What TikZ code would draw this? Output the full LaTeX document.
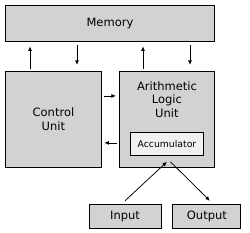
\documentclass[tikz,border=0pt]{standalone}
\usepackage{fontspec}
\setmainfont{DejaVu Sans}
\usetikzlibrary{positioning,arrows.meta}

\tikzset{
  unit/.style={rectangle,draw,line width=0.9pt,fill=gray!35,inner sep=0pt,font=\fontsize{11.5}{13.5}\selectfont,align=center},
  arr/.style={-{Latex[length=4.5pt,width=4pt]},line width=0.75pt}
}

\begin{document}
\begin{tikzpicture}
  \useasboundingbox (0,0) rectangle (250pt,-233pt);
  \node[unit,minimum width=209pt,minimum height=36pt,anchor=north west] (mem) at (5pt,-5pt) {Memory};
  \node[unit,minimum width=96pt,minimum height=96pt,below=29pt of mem.south west,anchor=north west] (cu) {Control\\Unit};
  \node[unit,minimum width=95pt,minimum height=96pt,below=29pt of mem.south east,anchor=north east,text depth=40pt] (alu) {Arithmetic\\Logic\\Unit};
  \node[unit,fill=gray!12,minimum width=73pt,minimum height=23pt,above=12pt of alu.south,anchor=south,font=\fontsize{9.3}{11}\selectfont,text depth=0pt] (acc) {Accumulator};
  \node[unit,minimum width=72pt,minimum height=24pt,below=36pt of alu.south,anchor=north east,xshift=-5.5pt] (in) {Input};
  \node[unit,minimum width=68pt,minimum height=24pt,right=11pt of in] (out) {Output};
  % memory <-> control unit
  \draw[arr] ([xshift=25pt,yshift=2pt]cu.north west) coordinate (a) -- ([yshift=-4.5pt]a |- mem.south);
  \draw[arr] ([xshift=72pt,yshift=-3pt]cu.north west |- mem.south) coordinate (b) -- ([yshift=6pt]b |- cu.north);
  % memory <-> alu
  \draw[arr] ([xshift=24pt,yshift=2pt]alu.north west) coordinate (c) -- ([yshift=-4.5pt]c |- mem.south);
  \draw[arr] ([xshift=71pt,yshift=-3pt]alu.north west |- mem.south) coordinate (d) -- ([yshift=6pt]d |- alu.north);
  % control unit <-> alu
  \draw[arr] ([xshift=2.5pt,yshift=-25pt]cu.north east) coordinate (e) -- ([xshift=-3pt]e -| alu.west);
  \draw[arr] ([xshift=-2pt,yshift=-72pt]alu.north west) coordinate (f) -- ([xshift=2.5pt]f -| cu.east);
  % input / output
  \draw[arr] ([yshift=3pt]in.north) -- ([yshift=-6pt]acc.south);
  \draw[arr] ([xshift=3.5pt,yshift=-6pt]acc.south) -- ([xshift=3pt,yshift=3pt]out.north);
\end{tikzpicture}
\end{document}
